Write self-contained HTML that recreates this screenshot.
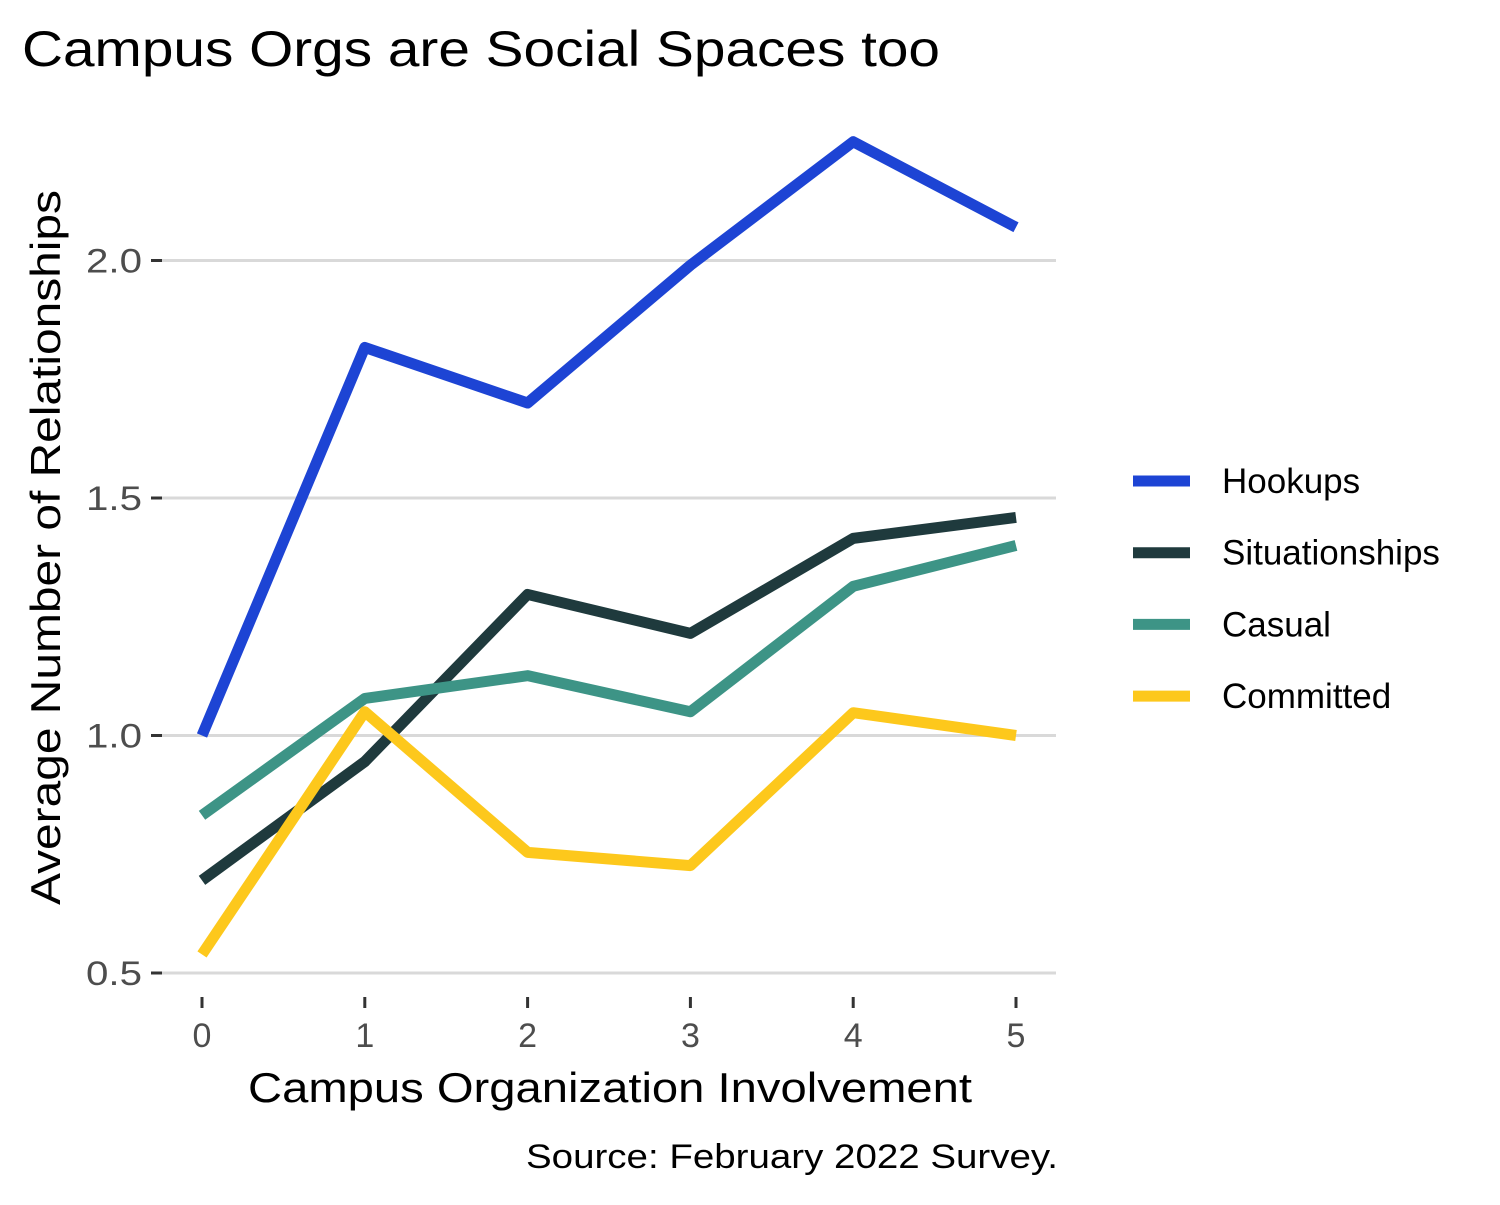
<!DOCTYPE html>
<html><head><meta charset="utf-8"><style>
body{margin:0;background:#fff;}
svg text{font-family:"Liberation Sans",sans-serif;}
</style></head><body>
<svg id="c" width="1500" height="1200" xmlns="http://www.w3.org/2000/svg">
<rect width="1500" height="1200" fill="#fff"/>
<text x="22" y="66" font-size="50" textLength="918" lengthAdjust="spacingAndGlyphs" fill="#000">Campus Orgs are Social Spaces too</text>
<g id="grid"></g><g id="ticks"></g><g id="lines"></g><g id="legend"></g>
<text x="248" y="1102" font-size="42" textLength="724" lengthAdjust="spacingAndGlyphs" fill="#000">Campus Organization Involvement</text>
<text transform="translate(60,905) rotate(-90)" font-size="42" textLength="715" lengthAdjust="spacingAndGlyphs" fill="#000">Average Number of Relationships</text>
<text x="526" y="1168" font-size="34" textLength="532" lengthAdjust="spacingAndGlyphs" fill="#000">Source: February 2022 Survey.</text>
</svg>
<script>
const categories=[0,1,2,3,4,5];
const seriesNames=["Hookups","Situationships","Casual","Committed"];
const hookups=[1.0,1.817,1.70,1.99,2.25,2.07];
const situationships=[0.695,0.945,1.297,1.215,1.415,1.459];
const casual=[0.832,1.078,1.126,1.05,1.314,1.40];
const committed=[0.539,1.05,0.754,0.726,1.048,1.0];
const yTicks=[0.5,1.0,1.5,2.0];
const yTickLabels=["0.5","1.0","1.5","2.0"];
const colors=["#1d44d4","#1f3a3d","#3d9486","#fdc81c"];
const NS="http://www.w3.org/2000/svg";
const xs=v=>202+v*162.8;
const ys=v=>973-(v-0.5)*475;
function mk(tag,attrs,parent,text){const e=document.createElementNS(NS,tag);for(const k in attrs)e.setAttribute(k,attrs[k]);if(text!==undefined)e.textContent=text;parent.appendChild(e);return e;}
const grid=document.getElementById('grid'),ticks=document.getElementById('ticks'),lines=document.getElementById('lines'),legend=document.getElementById('legend');
yTicks.forEach((t,i)=>{
 const g=mk('line',{x1:162,x2:1056,y1:ys(t),y2:ys(t),stroke:'#d9d9d9','stroke-width':3},grid);
 
 
 const tk=mk('line',{x1:151,x2:162,y1:ys(t),y2:ys(t),stroke:'#333','stroke-width':3},ticks);
 
 
 const lb=mk('text',{x:142,y:ys(t)+12,'font-size':34,'text-anchor':'end',fill:'#4d4d4d',textLength:56,lengthAdjust:'spacingAndGlyphs'},ticks,yTickLabels[i]);
 
 
});
categories.forEach(c=>{
 const tk=mk('line',{x1:xs(c),x2:xs(c),y1:997,y2:1008,stroke:'#333','stroke-width':3},ticks);
 
 
 const lb=mk('text',{x:xs(c),y:1047,'font-size':34,'text-anchor':'middle',fill:'#4d4d4d'},ticks,String(c));
 
 
});
[hookups,situationships,casual,committed].forEach((s,i)=>{
 const pts=s.map((v,j)=>xs(categories[j])+','+ys(v)).join(' ');
 const p=mk('polyline',{points:pts,fill:'none',stroke:colors[i],'stroke-width':11,'stroke-linejoin':'round'},lines);
 
 
 const y=481+i*71.7;
 const l=mk('line',{x1:1133,x2:1190,y1:y,y2:y,stroke:colors[i],'stroke-width':11},legend);
 
 
 const t=mk('text',{x:1222,y:y+12,'font-size':35,fill:'#000'},legend,seriesNames[i]);
 
 
});
</script>
</body></html>
